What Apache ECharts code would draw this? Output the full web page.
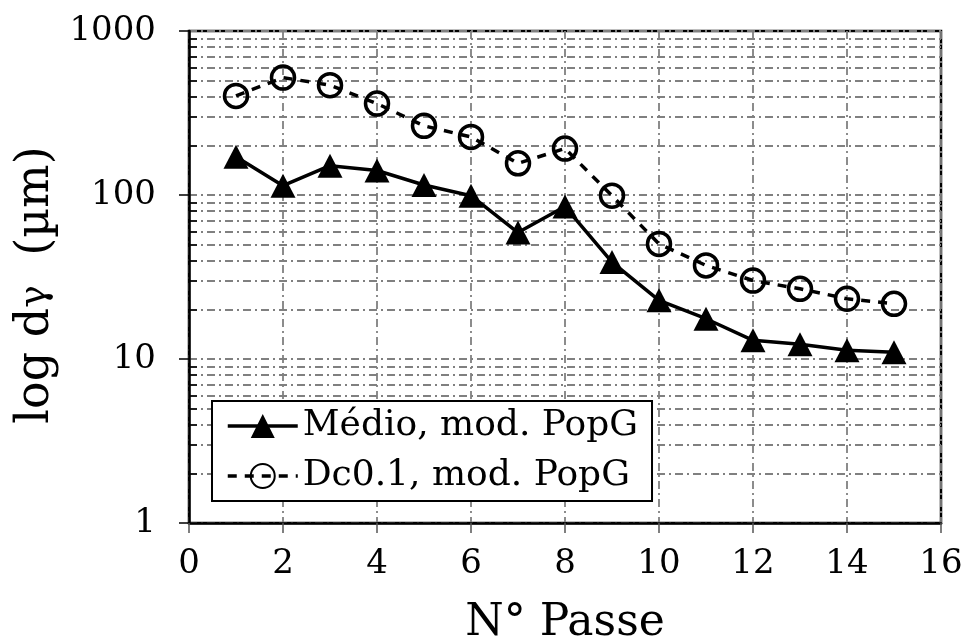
<!DOCTYPE html>
<html>
<head>
<meta charset="utf-8">
<script src="https://cdn.jsdelivr.net/npm/echarts@6/dist/echarts.min.js"></script>
<style>html,body{margin:0;padding:0;background:#fff;}#c{width:967px;height:643px;}</style>
</head>
<body>
<div id="c"></div>
<script>
const passes = [1,2,3,4,5,6,7,8,9,10,11,12,13,14,15];
const medio = [171,114,151,141,115,99,59,85,39,22.8,17.6,13.0,12.3,11.3,11.0];
const dc01 = [402,520,467,361,264,226,156,192,99,50.3,37.2,30.1,26.8,23.3,21.7];
const seriesNames = ['Médio, mod. PopG','Dc0.1, mod. PopG'];
const yMajorTicks = [1,10,100,1000];
const yMinorTicks = [2,3,4,5,6,7,8,9,20,30,40,50,60,70,80,90,200,300,400,500,600,700,800,900];
const xTicks = [0,2,4,6,8,10,12,14,16];

const FONT = 'DejaVu Serif';
const gridDash = [8,4,2,4];
const chart = echarts.init(document.getElementById('c'), null, {renderer:'canvas'});
chart.setOption({
  animation:false,
  backgroundColor:'#fff',
  grid:{left:189, top:31, right:26, bottom:120, outerBoundsMode:'none', containLabel:false, show:true, borderColor:'#000', borderWidth:2.5, backgroundColor:'transparent'},
  xAxis:{
    type:'value', min:xTicks[0], max:xTicks[xTicks.length-1], interval:2,
    axisLine:{show:true, onZero:false, lineStyle:{color:'#000', width:2.5}},
    axisTick:{show:true, inside:false, length:10, lineStyle:{color:'#555', width:1.5}},
    axisLabel:{fontFamily:FONT, fontSize:34, color:'#000', margin:24},
    splitLine:{show:true, lineStyle:{color:'#808080', width:1.8, type:gridDash}},
    name:'N° Passe', nameLocation:'middle', nameGap:79,
    nameTextStyle:{fontFamily:FONT, fontSize:44, color:'#000'}
  },
  yAxis:[{
    type:'log', logBase:10, min:yMajorTicks[0], max:yMajorTicks[yMajorTicks.length-1],
    axisLine:{show:true, lineStyle:{color:'#000', width:2.5}},
    axisTick:{show:true, inside:false, length:10, lineStyle:{color:'#000', width:1.5}},
    axisLabel:{fontFamily:FONT, fontSize:34, color:'#000', margin:33, formatter:(v)=>String(v)},
    splitLine:{show:true, lineStyle:{color:'#808080', width:1.8, type:gridDash}},
    name:'log d{s|γ}  (µm)', nameLocation:'middle', nameGap:124, nameRotate:90,
    nameTextStyle:{fontFamily:FONT, fontSize:46, color:'#000', padding:[0,16,0,0], rich:{s:{fontFamily:FONT, fontSize:38, color:'#000'}}}
  },{
    type:'log', logBase:10, min:yMajorTicks[0], max:yMajorTicks[yMajorTicks.length-1], position:'left',
    axisLine:{show:false},
    axisTick:{show:true, inside:true, length:8, customValues:yMinorTicks, lineStyle:{color:'#000', width:1.5}},
    axisLabel:{show:false, customValues:yMinorTicks},
    splitLine:{show:true, lineStyle:{color:'#808080', width:1.8, type:gridDash}}
  }],
  legend:{
    orient:'vertical', left:212, top:401,
    backgroundColor:'#fff', borderColor:'#000', borderWidth:2,
    padding:[7,14,7,14], itemWidth:70, itemHeight:30, itemGap:14,
    lineStyle:{width:3.5},
    textStyle:{fontFamily:FONT, fontSize:36, color:'#000'},
    data:seriesNames
  },
  series:[{
    name:seriesNames[0], type:'line', yAxisIndex:0,
    data:passes.map((p,i)=>[p, medio[i]]),
    symbol:'triangle', symbolSize:[25,24],
    lineStyle:{color:'#000', width:3.5},
    itemStyle:{color:'#000'}, z:5
  },{
    name:seriesNames[1], type:'line', yAxisIndex:0,
    data:passes.map((p,i)=>[p, dc01[i]]),
    symbol:'circle', symbolSize:23,
    lineStyle:{color:'#000', width:3.5, type:[9,8]},
    itemStyle:{color:'rgba(255,255,255,0)', borderColor:'#000', borderWidth:3.5}, z:5
  }]
});
</script>
</body>
</html>
